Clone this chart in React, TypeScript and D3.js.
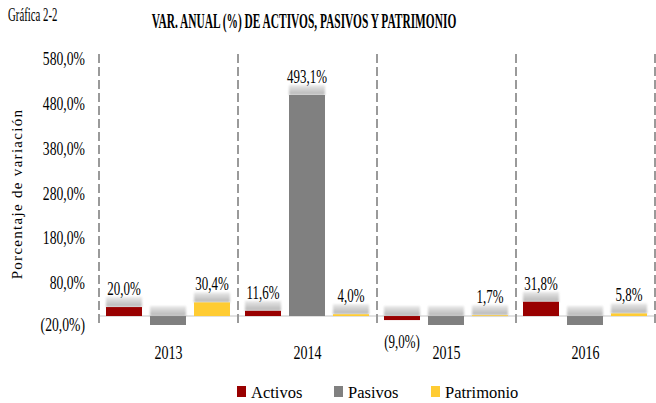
import React from 'react';
import * as d3 from 'd3';

const years: string[] = ['2013', '2014', '2015', '2016'];
const seriesNames: string[] = ['Activos', 'Pasivos', 'Patrimonio'];
const activos: number[] = [20.0, 11.6, -9.0, 31.8];
const pasivos: number[] = [-20.0, 493.1, -20.0, -20.0];
const patrimonio: number[] = [30.4, 4.0, 1.7, 5.8];
const yTicks: number[] = [580, 480, 380, 280, 180, 80, -20];
const seriesColors: string[] = ['#990000', '#808080', '#FFCC33'];

const W = 656;
const H = 403;
const FONT = 'Liberation Serif, DejaVu Serif, serif';

const fmt = (v: number) => {
  const s = Math.abs(v).toFixed(1).replace('.', ',') + '%';
  return v < 0 ? `(${s})` : s;
};

const CText = ({ x, y, sx = 0.72, size = 18, anchor = 'middle', children, weight = 'normal' }: any) => (
  <text
    transform={`translate(${x},${y}) scale(${sx},1)`}
    textAnchor={anchor}
    style={{ fontFamily: FONT, fontSize: size, fontWeight: weight }}
    fill="#000"
  >
    {children}
  </text>
);

export default function App() {
  const yMin = -20;
  const yMax = 580;
  const y = d3.scaleLinear().domain([yMin, yMax]).range([325, 56]);
  const x0 = d3.scaleBand<string>().domain(years).range([99, 655]).padding(0);
  const x1 = d3
    .scaleBand<string>()
    .domain(seriesNames)
    .range([7, x0.bandwidth() - 8])
    .paddingInner(0.182)
    .paddingOuter(0);

  const data = [activos, pasivos, patrimonio];
  const zeroY = y(0);

  const bars: any[] = [];
  years.forEach((yr, i) => {
    seriesNames.forEach((s, j) => {
      const v = data[j][i];
      const vc = Math.max(v, yMin);
      const bx = (x0(yr) as number) + (x1(s) as number);
      const bw = x1.bandwidth();
      const top = Math.min(y(vc), zeroY);
      const bottom = Math.max(y(vc), zeroY);
      bars.push({ yr, s, j, v, bx, bw, top, bottom, showLabel: v > yMin });
    });
  });

  const dividers = years.map((yr) => x0(yr) as number).concat([(x0(years[years.length - 1]) as number) + x0.bandwidth()]);

  return (
    <svg width={W} height={H} style={{ position: 'absolute', left: 0, top: 0, display: 'block', background: '#fff' }}>
      <defs>
        <filter id="blur" x="-20%" y="-50%" width="140%" height="200%">
          <feGaussianBlur stdDeviation="1.3" />
        </filter>
        <linearGradient id="shadowGrad" x1="0" y1="0" x2="0" y2="1">
          <stop offset="0%" stopColor="#e6e6e6" />
          <stop offset="100%" stopColor="#a8a8a8" />
        </linearGradient>
      </defs>

      {/* Header */}
      <CText x={8} y={20.5} anchor="start" size={18} sx={0.6}>
        Gráfica 2-2
      </CText>
      <CText x={304} y={27.5} anchor="middle" size={20} sx={0.57} weight="bold">
        VAR. ANUAL (%) DE ACTIVOS, PASIVOS Y PATRIMONIO
      </CText>

      {/* Y axis title */}
      <text
        transform={`translate(22,194) rotate(-90)`}
        textAnchor="middle"
        style={{ fontFamily: FONT, fontSize: 15, letterSpacing: 1.3 }}
      >
        Porcentaje de variación
      </text>

      {/* Y tick labels */}
      {yTicks.map((t, i) => (
        <CText key={t} x={85} y={y(t) + (i === yTicks.length - 1 ? 6 : 9)} anchor="end" size={19} sx={0.72}>
          {fmt(t)}
        </CText>
      ))}

      {/* Zero line */}
      <line x1={99} x2={655} y1={zeroY} y2={zeroY} stroke="#d9d9d9" strokeWidth={1.5} />

      {/* Dashed dividers */}
      {dividers.map((dx, i) => (
        <line key={i} x1={dx} x2={dx} y1={54} y2={325} stroke="#9a9a9a" strokeWidth={2} strokeDasharray="9,4" />
      ))}

      {/* Shadows */}
      {bars.map((b, i) => (
        <rect
          key={'sh' + i}
          x={b.bx}
          y={b.top - 10}
          width={b.bw}
          height={10}
          fill="url(#shadowGrad)"
          filter="url(#blur)"
          opacity={0.85}
        />
      ))}

      {/* Bars */}
      {bars.map((b, i) => (
        <rect
          key={'b' + i}
          x={b.bx}
          y={b.top}
          width={b.bw}
          height={Math.max(b.bottom - b.top, 0.5)}
          fill={seriesColors[b.j]}
        />
      ))}

      {/* Data labels */}
      {bars
        .filter((b) => b.showLabel)
        .map((b, i) => (
          <CText
            key={'l' + i}
            x={b.bx + b.bw / 2}
            y={b.v >= 0 ? b.top - 12 : b.bottom + 28}
            size={18}
            sx={0.72}
          >
            {fmt(b.v)}
          </CText>
        ))}

      {/* Year labels */}
      {years.map((yr) => (
        <CText key={yr} x={(x0(yr) as number) + x0.bandwidth() / 2} y={359} size={19} sx={0.74}>
          {yr}
        </CText>
      ))}

      {/* Legend */}
      {seriesNames.map((s, j) => {
        const lx = [237, 334, 431][j];
        return (
          <g key={s}>
            <rect x={lx} y={386} width={9} height={11} fill={seriesColors[j]} />
            <text x={lx + 14} y={397.5} style={{ fontFamily: FONT, fontSize: 16.5 }} fill="#000">
              {s}
            </text>
          </g>
        );
      })}
    </svg>
  );
}
